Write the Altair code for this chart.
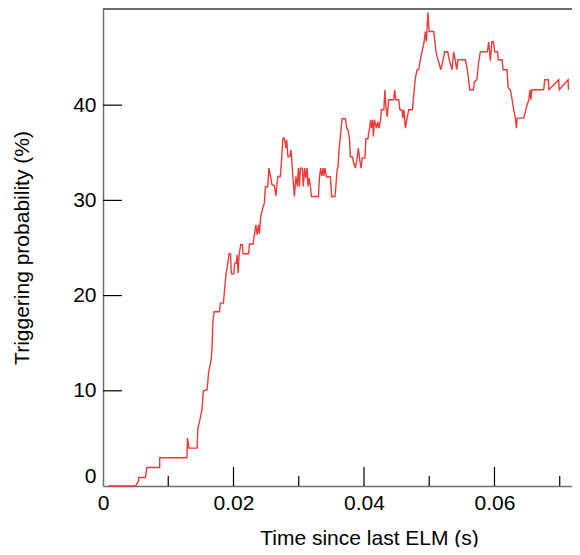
import altair as alt
import pandas as pd

# Step-like trace (time in s, probability in %)
time_s = [
    0.00083, 0.00497, 0.00547, 0.00547, 0.00650, 0.00673, 0.00869, 0.00869, 0.01286, 0.01294,
    0.01317, 0.01442, 0.01454, 0.01485, 0.01516, 0.01539, 0.01595, 0.01620, 0.01657, 0.01669,
    0.01684, 0.01704, 0.01784, 0.01799, 0.01845, 0.01861, 0.01887, 0.01911, 0.01933, 0.01953,
    0.01968, 0.02003, 0.02018, 0.02044, 0.02055, 0.02071, 0.02086, 0.02110, 0.02136, 0.02147,
    0.02233, 0.02244, 0.02300, 0.02320, 0.02343, 0.02362, 0.02382, 0.02397, 0.02417, 0.02448,
    0.02474, 0.02489, 0.02524, 0.02543, 0.02573, 0.02589, 0.02627, 0.02650, 0.02665, 0.02681,
    0.02719, 0.02739, 0.02757, 0.02780, 0.02803, 0.02815, 0.02834, 0.02864, 0.02880, 0.02892,
    0.02910, 0.02933, 0.02956, 0.02979, 0.02995, 0.03010, 0.03025, 0.03056, 0.03068, 0.03091,
    0.03107, 0.03128, 0.03143, 0.03159, 0.03179, 0.03194, 0.03301, 0.03317, 0.03336, 0.03355,
    0.03373, 0.03386, 0.03401, 0.03424, 0.03485, 0.03505, 0.03554, 0.03569, 0.03588, 0.03603,
    0.03618, 0.03638, 0.03664, 0.03715, 0.03735, 0.03756, 0.03776, 0.03792, 0.03822, 0.03842,
    0.03868, 0.03894, 0.03914, 0.03934, 0.03956, 0.03971, 0.04014, 0.04029, 0.04060, 0.04075,
    0.04087, 0.04101, 0.04117, 0.04132, 0.04144, 0.04160, 0.04190, 0.04213, 0.04228, 0.04251,
    0.04267, 0.04305, 0.04320, 0.04336, 0.04356, 0.04379, 0.04455, 0.04471, 0.04486, 0.04532,
    0.04550, 0.04581, 0.04596, 0.04612, 0.04635, 0.04661, 0.04685, 0.04742, 0.04762, 0.04788,
    0.04814, 0.04838, 0.04864, 0.04891, 0.04918, 0.04941, 0.04956, 0.04979, 0.04998, 0.05068,
    0.05087, 0.05102, 0.05120, 0.05145, 0.05176, 0.05206, 0.05237, 0.05283, 0.05314, 0.05350,
    0.05375, 0.05401, 0.05421, 0.05439, 0.05554, 0.05577, 0.05600, 0.05620, 0.05677, 0.05692,
    0.05730, 0.05758, 0.05784, 0.05891, 0.05911, 0.05937, 0.05960, 0.05983, 0.06002, 0.06045,
    0.06057, 0.06117, 0.06132, 0.06193, 0.06209, 0.06244, 0.06270, 0.06294, 0.06320, 0.06336,
    0.06348, 0.06448, 0.06474, 0.06500, 0.06527, 0.06543, 0.06558, 0.06573, 0.06754, 0.06770,
    0.06826, 0.06834, 0.06984, 0.06992, 0.07128, 0.07133,
]
prob_pct = [
    0.00, 0.00, 0.55, 0.89, 0.89, 1.94, 1.94, 2.96, 2.96, 5.03,
    3.98, 3.98, 6.08, 6.95, 8.00, 10.00, 10.10, 12.00, 13.26, 14.31,
    17.25, 18.30, 18.30, 19.21, 19.21, 20.43, 22.36, 23.34, 24.39, 24.39,
    22.29, 22.29, 23.41, 23.41, 24.29, 22.36, 24.29, 25.34, 25.34, 24.39,
    24.39, 25.41, 25.41, 26.39, 27.44, 26.39, 27.44, 26.49, 28.31, 29.19,
    29.72, 31.43, 31.43, 33.39, 32.34, 31.64, 31.53, 30.48, 31.64, 32.51,
    32.51, 34.47, 36.54, 36.54, 35.49, 36.37, 34.61, 34.61, 35.31, 34.44,
    32.51, 30.41, 32.51, 31.46, 33.39, 31.46, 33.39, 33.39, 31.46, 33.39,
    32.34, 33.39, 31.46, 32.34, 31.46, 30.41, 30.41, 32.34, 33.39, 32.58,
    33.39, 32.58, 33.39, 32.48, 32.48, 30.41, 30.41, 31.46, 33.21, 33.56,
    35.31, 36.71, 38.57, 38.57, 37.59, 37.42, 36.54, 34.58, 34.58, 33.92,
    33.39, 34.44, 35.49, 34.26, 33.39, 34.44, 34.44, 36.47, 36.47, 37.24,
    37.59, 38.47, 37.59, 38.47, 36.71, 38.47, 37.59, 38.26, 37.59, 38.29,
    39.52, 39.52, 41.62, 39.86, 38.78, 40.57, 40.57, 41.62, 40.57, 40.57,
    39.52, 39.52, 38.64, 39.52, 37.59, 38.64, 39.52, 39.52, 41.09, 42.88,
    43.72, 43.72, 44.77, 45.71, 46.55, 47.74, 46.69, 49.76, 47.74, 47.74,
    46.66, 45.71, 45.11, 44.56, 43.72, 44.56, 45.61, 45.61, 44.59, 43.72,
    45.61, 44.59, 43.72, 44.77, 44.77, 44.03, 42.88, 41.62, 41.62, 42.46,
    42.67, 44.56, 45.61, 45.61, 46.66, 44.66, 46.66, 46.66, 45.61, 45.61,
    44.77, 44.77, 43.72, 43.72, 41.83, 41.62, 40.57, 39.52, 38.64, 37.59,
    38.64, 38.64, 39.34, 40.04, 40.57, 41.62, 40.57, 41.62, 41.62, 42.67,
    42.67, 41.62, 42.67, 41.62, 42.67, 41.62,
]

x_labels = [0, 0.02, 0.04, 0.06]
x_major_ticks = [0.02, 0.04, 0.06]
x_minor_ticks = [0.01, 0.03, 0.05, 0.07]
y_labels = [0, 10, 20, 30, 40]
y_ticks = [10, 20, 30, 40]

W, H = 469, 477
FONT = "Liberation Sans"

df = pd.DataFrame({"t": time_s, "p": prob_pct, "i": list(range(len(time_s)))})
xscale = alt.Scale(domain=[0, 0.07188], nice=False, zero=False)
yscale = alt.Scale(domain=[0, 50.1], nice=False, zero=False)

line = alt.Chart(df).mark_line(color="#f03a3a", strokeWidth=1.4).encode(
    x=alt.X(
        "t:Q", scale=xscale,
        axis=alt.Axis(
            values=x_labels, format=".2~f", title="Time since last ELM (s)",
            ticks=False, grid=False, labelFlush=False, labelPadding=6,
            domainColor="#707070", domainWidth=1.5,
            titleX=266, titleY=52, titleBaseline="middle",
        ),
    ),
    y=alt.Y(
        "p:Q", scale=yscale,
        axis=alt.Axis(
            values=y_labels, format="d", title="Triggering probability (%)",
            ticks=False, grid=False, labelFlush=True, labelPadding=7,
            domainColor="#707070", domainWidth=1.5,
            titleX=-81, titleBaseline="middle",
        ),
    ),
    order="i:Q",
)

xmaj = alt.Chart(pd.DataFrame({"t": x_major_ticks})).mark_rule(color="black", strokeWidth=1.2).encode(
    x=alt.X("t:Q", scale=xscale), y=alt.value(H), y2=alt.value(H - 19)
)
xmin = alt.Chart(pd.DataFrame({"t": x_minor_ticks})).mark_rule(color="black", strokeWidth=1.2).encode(
    x=alt.X("t:Q", scale=xscale), y=alt.value(H), y2=alt.value(H - 10)
)
ytk = alt.Chart(pd.DataFrame({"p": y_ticks})).mark_rule(color="black", strokeWidth=1.2).encode(
    y=alt.Y("p:Q", scale=yscale), x=alt.value(0), x2=alt.value(19)
)
top = alt.Chart(pd.DataFrame({"p": [0]})).mark_rule(color="#3c3c3c", strokeWidth=1.3).encode(
    x=alt.value(0), x2=alt.value(W), y=alt.value(0)
)

chart = alt.layer(line, xmaj, xmin, ytk, top).properties(
    width=W, height=H,
    autosize=alt.AutoSizeParams(type="none"),
    padding={"left": 95, "top": 1, "right": 0, "bottom": 61},
).configure_view(stroke=None).configure_axis(
    labelFont=FONT, titleFont=FONT, labelFontSize=21, titleFontSize=21,
    labelColor="black", titleColor="black", titleFontWeight="normal",
)

chart.save("out.html", embed_options={"renderer": "svg", "actions": False})
